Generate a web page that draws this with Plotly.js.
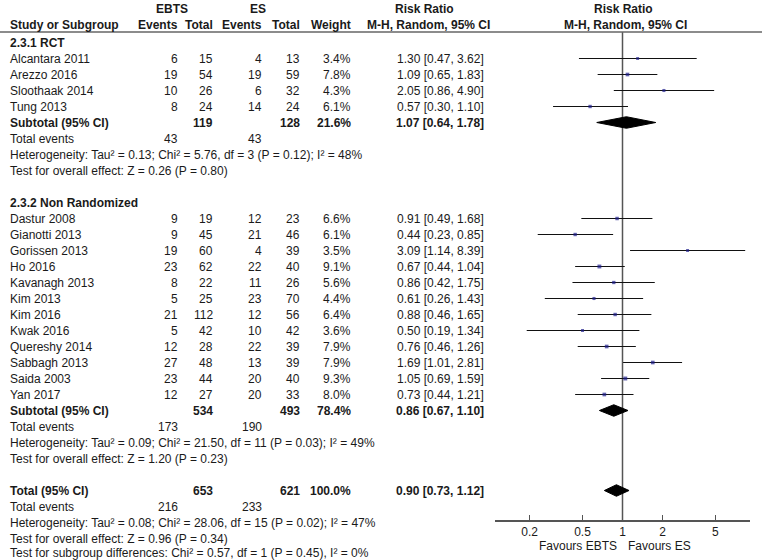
<!DOCTYPE html>
<html>
<head>
<meta charset="utf-8">
<script src="https://cdn.plot.ly/plotly-3.0.1.min.js"></script>
<style>html,body{margin:0;padding:0;background:#fff;}#chart{width:762px;height:560px;}</style>
</head>
<body>
<div id="chart"></div>
<script>
// ---------- DATA ----------
const rctStudies = ["Alcantara 2011", "Arezzo 2016", "Sloothaak 2014", "Tung 2013"];
const rctEbtsEvents = [6, 19, 10, 8];
const rctEbtsTotal = [15, 54, 26, 24];
const rctEsEvents = [4, 19, 6, 14];
const rctEsTotal = [13, 59, 32, 24];
const rctWeight = [3.4, 7.8, 4.3, 6.1];
const rctRR = [1.30, 1.09, 2.05, 0.57];
const rctLo = [0.47, 0.65, 0.86, 0.30];
const rctHi = [3.62, 1.83, 4.90, 1.10];

const nrStudies = ["Dastur 2008", "Gianotti 2013", "Gorissen 2013", "Ho 2016", "Kavanagh 2013", "Kim 2013",
  "Kim 2016", "Kwak 2016", "Quereshy 2014", "Sabbagh 2013", "Saida 2003", "Yan 2017"];
const nrEbtsEvents = [9, 9, 19, 23, 8, 5, 21, 5, 12, 27, 23, 12];
const nrEbtsTotal = [19, 45, 60, 62, 22, 25, 112, 42, 28, 48, 44, 27];
const nrEsEvents = [12, 21, 4, 22, 11, 23, 12, 10, 22, 13, 20, 20];
const nrEsTotal = [23, 46, 39, 40, 26, 70, 56, 42, 39, 39, 40, 33];
const nrWeight = [6.6, 6.1, 3.5, 9.1, 5.6, 4.4, 6.4, 3.6, 7.9, 7.9, 9.3, 8.0];
const nrRR = [0.91, 0.44, 3.09, 0.67, 0.86, 0.61, 0.88, 0.50, 0.76, 1.69, 1.05, 0.73];
const nrLo = [0.49, 0.23, 1.14, 0.44, 0.42, 0.26, 0.46, 0.19, 0.46, 1.01, 0.69, 0.44];
const nrHi = [1.68, 0.85, 8.39, 1.04, 1.75, 1.43, 1.65, 1.34, 1.26, 2.81, 1.59, 1.21];

// subgroup / overall summaries
const summaryLabels = ["Subtotal (95% CI)", "Subtotal (95% CI)", "Total (95% CI)"];
const summaryEbtsTotal = [119, 534, 653];
const summaryEsTotal = [128, 493, 621];
const summaryWeight = [21.6, 78.4, 100.0];
const summaryRR = [1.07, 0.86, 0.90];
const summaryLo = [0.64, 0.67, 0.73];
const summaryHi = [1.78, 1.10, 1.12];
const summaryEbtsEvents = [43, 173, 216];
const summaryEsEvents = [43, 190, 233];
const heterogeneity = [
  "Heterogeneity: Tau² = 0.13; Chi² = 5.76, df = 3 (P = 0.12); I² = 48%",
  "Heterogeneity: Tau² = 0.09; Chi² = 21.50, df = 11 (P = 0.03); I² = 49%",
  "Heterogeneity: Tau² = 0.08; Chi² = 28.06, df = 15 (P = 0.02); I² = 47%"
];
const overallEffect = [
  "Test for overall effect: Z = 0.26 (P = 0.80)",
  "Test for overall effect: Z = 1.20 (P = 0.23)",
  "Test for overall effect: Z = 0.96 (P = 0.34)"
];
const subgroupDiff = "Test for subgroup differences: Chi² = 0.57, df = 1 (P = 0.45), I² = 0%";
const groupTitles = ["2.3.1 RCT", "2.3.2 Non Randomized"];
const tickVals = [0.2, 0.5, 1, 2, 5];
const tickLabels = ["0.2", "0.5", "1", "2", "5"];

// ---------- LAYOUT HELPERS ----------
const W = 762, H = 560;
const ROW0 = 58.5, ROWH = 16; // pixel of first study row, row height
const px2row = p => (p - ROW0) / ROWH;
const FONT = "'Liberation Sans', Arial, Helvetica, sans-serif";
const TXT = "#1a1a1a";

const rctRows = rctStudies.map((_, i) => i);          // 0..3
const nrRows = nrStudies.map((_, i) => 10 + i);       // 10..21
const summaryRows = [4, 22, 27];
const groupTitleRows = [-1, 9];

const annotations = [];
function ann(text, xPix, row, anchor, bold, size) {
  annotations.push({
    text: bold ? "<b>" + text + "</b>" : text,
    x: xPix / W, xref: "paper", y: row, yref: "y",
    xanchor: anchor, yanchor: "middle", showarrow: false,
    font: {family: FONT, size: size || 12, color: TXT}, borderpad: 0
  });
}
const fmtRR = (r, l, h) => r.toFixed(2) + " [" + l.toFixed(2) + ", " + h.toFixed(2) + "]";

// column x positions (pixels)
const X_NAME = 9, X_EBTS_EV = 179, X_EBTS_TOT = 214, X_ES_EV = 263, X_ES_TOT = 301, X_WT = 352, X_RR = 485;

// headers
ann("EBTS", 172, px2row(8.5), "center", true);
ann("ES", 258, px2row(8.5), "center", true);
ann("Risk Ratio", 424, px2row(8.5), "center", true);
ann("Risk Ratio", 623, px2row(8.5), "center", true);
ann("Study or Subgroup", X_NAME, px2row(25), "left", true);
ann("Events", X_EBTS_EV, px2row(25), "right", true);
ann("Total", X_EBTS_TOT, px2row(25), "right", true);
ann("Events", X_ES_EV, px2row(25), "right", true);
ann("Total", X_ES_TOT, px2row(25), "right", true);
ann("Weight", X_WT, px2row(25), "right", true);
ann("M-H, Random, 95% CI", 428, px2row(25), "center", true);
ann("M-H, Random, 95% CI", 625, px2row(25), "center", true);

groupTitles.forEach((t, g) => ann(t, X_NAME, groupTitleRows[g], "left", true));

function studyRows(names, ee, et, se, st, w, rr, lo, hi, rows) {
  names.forEach((n, i) => {
    const r = rows[i];
    ann(n, X_NAME, r, "left");
    ann(String(ee[i]), X_EBTS_EV, r, "right");
    ann(String(et[i]), X_EBTS_TOT, r, "right");
    ann(String(se[i]), X_ES_EV, r, "right");
    ann(String(st[i]), X_ES_TOT, r, "right");
    ann(w[i].toFixed(1) + "%", X_WT, r, "right");
    ann(fmtRR(rr[i], lo[i], hi[i]), X_RR, r, "right");
  });
}
studyRows(rctStudies, rctEbtsEvents, rctEbtsTotal, rctEsEvents, rctEsTotal, rctWeight, rctRR, rctLo, rctHi, rctRows);
studyRows(nrStudies, nrEbtsEvents, nrEbtsTotal, nrEsEvents, nrEsTotal, nrWeight, nrRR, nrLo, nrHi, nrRows);

summaryRows.forEach((r, k) => {
  ann(summaryLabels[k], X_NAME, r, "left", true);
  ann(String(summaryEbtsTotal[k]), X_EBTS_TOT, r, "right", true);
  ann(String(summaryEsTotal[k]), X_ES_TOT, r, "right", true);
  ann(summaryWeight[k].toFixed(1) + "%", X_WT, r, "right", true);
  ann(fmtRR(summaryRR[k], summaryLo[k], summaryHi[k]), X_RR, r, "right", true);
  ann("Total events", X_NAME, r + 1, "left");
  ann(String(summaryEbtsEvents[k]), X_EBTS_EV, r + 1, "right");
  ann(String(summaryEsEvents[k]), X_ES_EV, r + 1, "right");
  ann(heterogeneity[k], X_NAME, r + 2, "left");
  ann(overallEffect[k], X_NAME, r + 3, "left");
});
ann(subgroupDiff, X_NAME, px2row(552.5), "left");

ann("Favours EBTS", 618, px2row(546), "right");
ann("Favours ES", 627, px2row(546), "left");

// ---------- TRACES ----------
const allRR = rctRR.concat(nrRR), allLo = rctLo.concat(nrLo), allHi = rctHi.concat(nrHi);
const allRows = rctRows.concat(nrRows), allW = rctWeight.concat(nrWeight);

const ciX = [], ciY = [];
allRows.forEach((r, i) => { ciX.push(allLo[i], allHi[i], null); ciY.push(r, r, null); });

const traces = [];
// vertical line of no effect
traces.push({x: [1, 1], y: [px2row(32), px2row(520)], mode: "lines", type: "scatter",
  line: {color: "#555", width: 1.5}, hoverinfo: "skip"});
traces.push({x: ciX, y: ciY, mode: "lines", type: "scatter", line: {color: "#111", width: 1}, hoverinfo: "skip"});
traces.push({x: allRR, y: allRows, mode: "markers", type: "scatter",
  marker: {symbol: "square", color: "#1c1c8a", size: allW.map(w => 2.4 + w * 0.16), line: {width: 0}}, hoverinfo: "skip"});

const DH = 0.36;
summaryRows.forEach((r, k) => {
  traces.push({
    x: [summaryLo[k], summaryRR[k], summaryHi[k], summaryRR[k], summaryLo[k]],
    y: [r, r - DH, r, r + DH, r],
    mode: "lines", type: "scatter", fill: "toself", fillcolor: "#000",
    line: {color: "#000", width: 1}, hoverinfo: "skip"
  });
});

const layout = {
  width: W, height: H,
  margin: {l: 0, r: 0, t: 0, b: 0, pad: 0},
  paper_bgcolor: "#fff", plot_bgcolor: "rgba(0,0,0,0)",
  showlegend: false,
  font: {family: FONT, size: 12, color: TXT},
  xaxis: {
    type: "log", range: [-0.96, 0.96], domain: [495 / W, 750 / W],
    anchor: "free", position: 1 - 520 / H,
    showline: true, linecolor: "#555", linewidth: 1.5,
    ticks: "inside", ticklen: 5, tickwidth: 1.5, tickcolor: "#555",
    tickvals: tickVals, ticktext: tickLabels,
    tickfont: {family: FONT, size: 12, color: TXT},
    ticklabelstandoff: 0,
    showgrid: false, zeroline: false, fixedrange: true
  },
  yaxis: {range: [px2row(H), px2row(0)], domain: [0, 1], visible: false,
    showgrid: false, zeroline: false, fixedrange: true},
  shapes: [
    {type: "line", xref: "paper", yref: "paper", x0: 0, x1: 1, y0: 1 - 32 / H, y1: 1 - 32 / H,
      line: {color: "#666", width: 1.5}}
  ],
  annotations: annotations
};

Plotly.newPlot("chart", traces, layout, {staticPlot: true, displayModeBar: false});
</script>
</body>
</html>
